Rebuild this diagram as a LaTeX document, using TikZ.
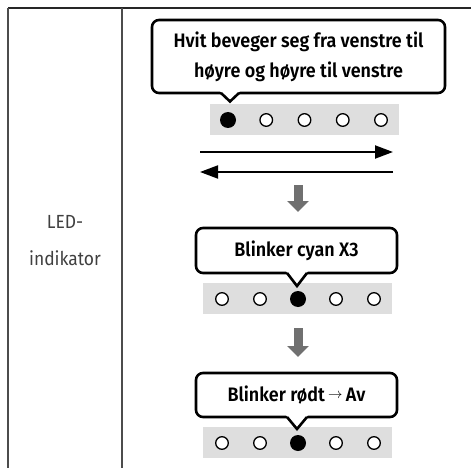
\documentclass[tikz,border=0pt]{standalone}
\usepackage{fontspec}
\setmainfont{Fira Sans}[BoldFont={Fira Sans SemiBold}, FakeStretch=0.92]
\usetikzlibrary{arrows.meta}

\begin{document}
\begin{tikzpicture}[x=1pt, y=-1pt,
    rule/.style={line width=1.3pt, black!70},
    bubble/.style={draw, fill=white, line width=2.6pt, rounded corners=7pt, align=center,
        inner sep=0pt, font=\bfseries\fontsize{19.5}{30}\selectfont},
    tail/.style={line width=2.6pt, line join=miter},
    ledbar/.style={fill=black!13, inner sep=0pt, minimum height=31pt, minimum width=189pt},
    ledoff/.style={draw, line width=1.3pt, fill=white},
    ledon/.style={fill=black},
    sweep/.style={line width=2pt, -{Triangle[length=18pt, width=13pt]}},
    stepdown/.style={line width=9pt, draw=black!56, -{Triangle[length=11pt, width=21pt]}}]
    \useasboundingbox (0,0) rectangle (471,468);

    % table rules
    \draw[line width=1.4pt, black!85] (8,8) -- (471,8);
    \draw[rule] (8,8) -- (8,468);
    \draw[rule] (122,8) -- (122,468);
    \node[font=\fontsize{19}{37}\selectfont, text=black!75, align=center] (lbl) at (65,241) {LED-\\indikator};

    % LED rows
    \node[ledbar] (bar1) at (304,119.5) {};
    \node[ledbar] (bar2) at (297.5,298.5) {};
    \node[ledbar] (bar3) at (297.5,442.5) {};
    \foreach \i in {1,...,4} {
        \draw[ledoff] (228+38.25*\i,120) circle[radius=6.3pt];
    }
    \fill[ledon] (228,120) circle[radius=8pt];
    \foreach \i in {0,1,3,4} {
        \draw[ledoff] (222+38*\i,299) circle[radius=6.3pt];
        \draw[ledoff] (222+38*\i,443) circle[radius=6.3pt];
    }
    \fill[ledon] (298,299) circle[radius=8pt];
    \fill[ledon] (298,443) circle[radius=8pt];

    % bubbles
    \node[bubble, minimum width=293pt, minimum height=73pt] (b1) at (298.5,56.5)
        {Hvit beveger seg fra venstre til\\høyre og høyre til venstre};
    \fill[white] (220,91) -- (230,101.5) -- (240,91) -- cycle;
    \draw[tail] (221,93) -- (230,101.5) -- (239,93);

    \node[bubble, minimum width=201pt, minimum height=45pt] (b2) at (296.5,250.5) {Blinker cyan X3};
    \fill[white] (286,271) -- (297,286) -- (308,271) -- cycle;
    \draw[tail] (287,273) -- (297,286) -- (307,273);

    \node[bubble, minimum width=201pt, minimum height=44pt] (b3) at (296.5,395)
        {Blinker rødt\,\raisebox{3.5pt}{\fontsize{14}{14}\selectfont$\rightarrow$}\,Av};
    \fill[white] (286,415) -- (297,429) -- (308,415) -- cycle;
    \draw[tail] (287,417) -- (297,429) -- (307,417);

    % movement arrows
    \coordinate (r0) at (200,152);
    \coordinate (r1) at (393,152);
    \coordinate (l0) at (393,172);
    \coordinate (l1) at (200,172);
    \draw[sweep] (r0) -- (r1);
    \draw[sweep] (l0) -- (l1);

    \coordinate (g1a) at (298,185);
    \coordinate (g1b) at (298,212);
    \coordinate (g2a) at (298,328);
    \coordinate (g2b) at (298,357);
    \draw[stepdown] (g1a) -- (g1b);
    \draw[stepdown] (g2a) -- (g2b);
\end{tikzpicture}
\end{document}
